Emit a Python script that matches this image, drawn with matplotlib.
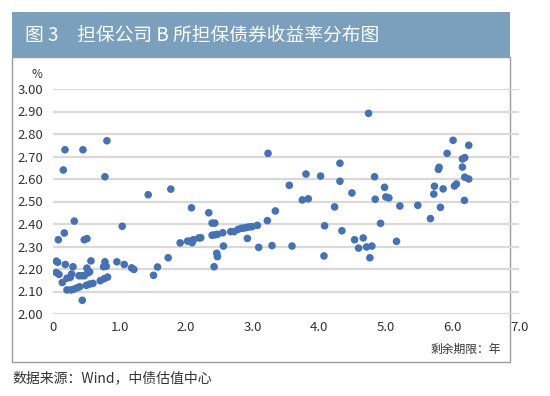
import matplotlib
matplotlib.use('Agg')
import matplotlib.pyplot as plt
from matplotlib.patches import Rectangle

plt.rcParams['font.family'] = ['Noto Sans CJK SC', 'DejaVu Sans']

# 剩余期限（年）与收益率（%）
term = [0.18, 0.45, 0.81, 0.155, 0.78, 1.43, 1.77, 0.32, 0.17, 0.08,
        0.47, 0.51, 1.04, 0.05, 0.07, 0.185, 0.30, 0.57, 0.51, 0.78,
        0.76, 0.80, 0.96, 1.07, 1.18, 1.215, 1.73, 1.57, 1.51, 0.05,
        0.09, 0.14, 0.21, 0.26, 0.28, 0.39, 0.43, 0.47, 0.52, 0.55,
        0.21, 0.27, 0.31, 0.36, 0.40, 0.50, 0.55, 0.60, 0.71, 0.77,
        0.82, 0.44, 3.23, 2.08, 2.34, 2.39, 2.43, 1.91, 2.02, 2.07,
        2.09, 2.11, 2.19, 2.22, 2.39, 2.43, 2.47, 2.55, 2.67, 2.72,
        2.78, 2.83, 2.87, 2.91, 2.95, 2.99, 3.07, 3.22, 3.34, 2.92,
        2.56, 3.09, 3.29, 3.59, 2.46, 2.47, 2.42, 3.55, 3.745, 3.835,
        3.80, 4.02, 4.74, 4.31, 4.31, 4.83, 4.98, 4.49, 4.84, 5.00,
        5.045, 4.23, 5.21, 5.48, 5.67, 4.08, 4.92, 4.34, 4.53, 4.66,
        4.59, 4.71, 4.79, 5.16, 4.07, 4.76, 6.01, 6.245, 5.92, 6.15,
        6.185, 5.80, 5.79, 6.15, 6.185, 6.245, 5.73, 5.72, 5.86, 6.06,
        6.03, 6.18, 5.82]
yld = [2.73, 2.73, 2.77, 2.64, 2.61, 2.53, 2.555, 2.413, 2.36, 2.33,
       2.33, 2.335, 2.39, 2.235, 2.23, 2.22, 2.21, 2.236, 2.204, 2.232,
       2.21, 2.212, 2.232, 2.22, 2.205, 2.198, 2.25, 2.209, 2.172, 2.184,
       2.176, 2.14, 2.159, 2.163, 2.178, 2.17, 2.17, 2.17, 2.182, 2.187,
       2.107, 2.107, 2.11, 2.116, 2.121, 2.127, 2.133, 2.136, 2.148, 2.157,
       2.164, 2.061, 2.714, 2.472, 2.45, 2.404, 2.404, 2.316, 2.324, 2.324,
       2.317, 2.33, 2.338, 2.339, 2.35, 2.352, 2.354, 2.361, 2.366, 2.366,
       2.376, 2.381, 2.382, 2.385, 2.387, 2.388, 2.394, 2.415, 2.458, 2.336,
       2.302, 2.296, 2.304, 2.302, 2.27, 2.255, 2.21, 2.572, 2.507, 2.512,
       2.622, 2.613, 2.892, 2.67, 2.59, 2.61, 2.563, 2.538, 2.51, 2.52,
       2.516, 2.476, 2.48, 2.483, 2.424, 2.392, 2.403, 2.37, 2.33, 2.338,
       2.293, 2.298, 2.302, 2.323, 2.258, 2.25, 2.772, 2.75, 2.714, 2.689,
       2.695, 2.652, 2.643, 2.653, 2.608, 2.60, 2.568, 2.533, 2.556, 2.578,
       2.569, 2.505, 2.474]

x_ticks = [0, 1, 2, 3, 4, 5, 6, 7]
x_labels = ['0', '1.0', '2.0', '3.0', '4.0', '5.0', '6.0', '7.0']
y_ticks = [2.0, 2.1, 2.2, 2.3, 2.4, 2.5, 2.6, 2.7, 2.8, 2.9, 3.0]

W, H = 550, 396
fig = plt.figure(figsize=(5.5, 3.96), dpi=100)

# 标题栏和外框（放在坐标轴下面）
fig.patches.append(Rectangle((12 / W, 1 - 57 / H), 498 / W, 45 / H,
                             transform=fig.transFigure, facecolor='#7ba0be',
                             edgecolor='none', zorder=-2))
fig.patches.append(Rectangle((12 / W, 1 - 362 / H), 498 / W, 305 / H,
                             transform=fig.transFigure, facecolor='white',
                             edgecolor='#9a9a9a', linewidth=1, zorder=-2))
fig.text(25 / W, 1 - 35 / H, '图 3　担保公司 B 所担保债券收益率分布图',
         color='white', fontsize=13.5, va='center', ha='left')

ax = fig.add_axes([53 / W, 1 - 314 / H, 466 / W, 225 / H])
ax.set_facecolor('none')
for y in y_ticks:
    ax.axhline(y, color='#d9d9d9', linewidth=1.6, zorder=1)
ax.scatter(term, yld, s=30, color='#4672b4', edgecolors='none', zorder=3)

ax.set_xlim(0, 7)
ax.set_ylim(2.0, 3.0)
ax.set_xticks(x_ticks)
ax.set_xticklabels(x_labels)
ax.set_yticks(y_ticks)
ax.set_yticklabels(['%.2f' % v for v in y_ticks])
ax.tick_params(length=0, labelsize=9.5, labelcolor='#333333')
ax.tick_params(axis='y', pad=7)
ax.tick_params(axis='x', pad=5)
for s in ax.spines.values():
    s.set_visible(False)

fig.text(37 / W, 1 - 74 / H, '%', fontsize=8.5, color='#333333',
         ha='center', va='center')
fig.text(501 / W, 1 - 349 / H, '剩余期限：年', fontsize=8.5, color='#333333',
         ha='right', va='center')
fig.text(12 / W, 1 - 378 / H, '数据来源：Wind，中债估值中心', fontsize=10,
         color='#333333', ha='left', va='center')

fig.savefig('out.png', dpi=100)
